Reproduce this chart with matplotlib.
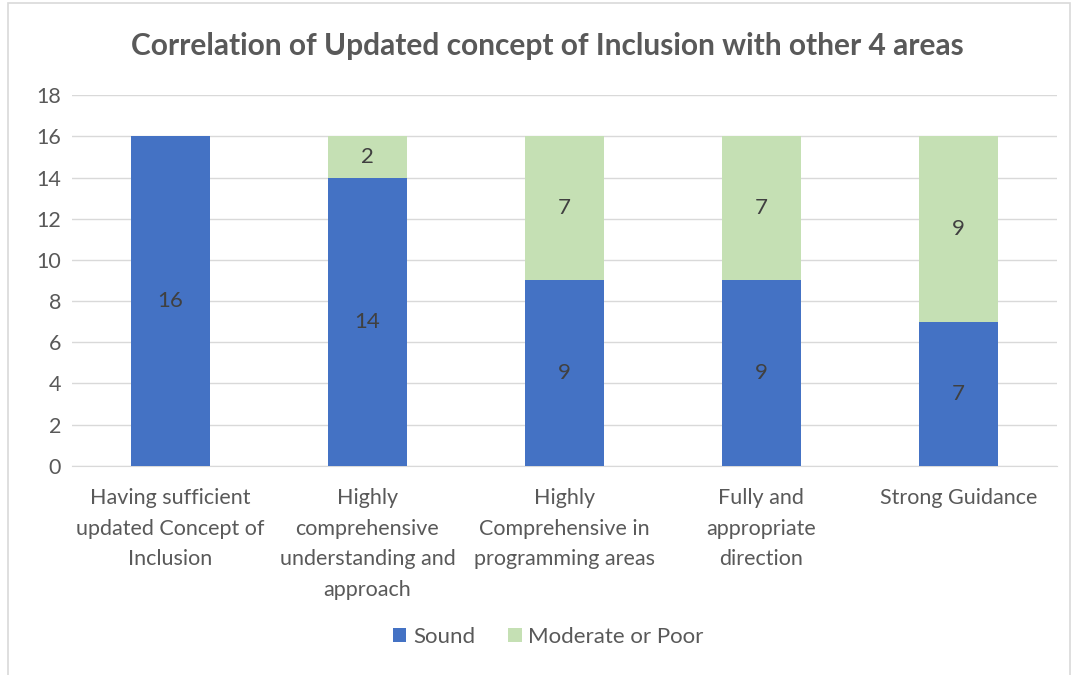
import matplotlib.pyplot as plt
from matplotlib.patches import Rectangle

categories = [
    "Having sufficient\nupdated Concept of\nInclusion",
    "Highly\ncomprehensive\nunderstanding and\napproach",
    "Highly\nComprehensive in\nprogramming areas",
    "Fully and\nappropriate\ndirection",
    "Strong Guidance",
]
sound = [16, 14, 9, 9, 7]
moderate_poor = [0, 2, 7, 7, 9]

plt.rcParams['font.family'] = ['Lato', 'DejaVu Sans']
text_col = "#595959"
blue = "#4472C4"
green = "#C5E0B4"

fig = plt.figure(figsize=(10.75, 6.75), dpi=100)
ax = fig.add_axes([0.067, 0.310, 0.916, 0.549])

x = list(range(len(categories)))
b1 = ax.bar(x, sound, width=0.4, color=blue, label="Sound", zorder=3)
b2 = ax.bar(x, moderate_poor, width=0.4, bottom=sound, color=green,
            label="Moderate or Poor", zorder=3)

# value labels in the middle of each segment
for i in x:
    if sound[i]:
        ax.text(i, sound[i] / 2, str(sound[i]), ha="center", va="center",
                fontsize=16, color="#404040", zorder=4)
    if moderate_poor[i]:
        ax.text(i, sound[i] + moderate_poor[i] / 2, str(moderate_poor[i]),
                ha="center", va="center", fontsize=16, color="#404040", zorder=4)

ax.set_xlim(-0.5, 4.5)
ax.set_ylim(0, 18)
ax.set_yticks(range(0, 19, 2))
ax.set_xticks(x)
ax.set_xticklabels(categories, fontsize=15.5, color=text_col, linespacing=1.66)
ax.tick_params(axis="y", labelsize=15.5, colors=text_col, length=0, pad=8)
ax.tick_params(axis="x", length=0, pad=16)
ax.grid(axis="y", color="#D9D9D9", linewidth=1, zorder=0)
for s in ["top", "right", "left"]:
    ax.spines[s].set_visible(False)
ax.spines["bottom"].set_color("#D9D9D9")

fig.text(0.509, 0.932, "Correlation of Updated concept of Inclusion with other 4 areas",
         ha="center", va="center", fontsize=21.5, fontweight="bold", color=text_col)

fig.legend(handles=[b1, b2], loc="center", bbox_to_anchor=(0.51, 0.056), ncol=2,
           frameon=False, fontsize=16, labelcolor=text_col, handlelength=0.6,
           handleheight=0.6, handletextpad=0.3, columnspacing=1.5)

# outer chart border
fig.patches.append(Rectangle((8 / 1075, -0.01), 1062 / 1075, 1 - 3 / 675 + 0.01,
                             transform=fig.transFigure, fill=False,
                             edgecolor="#D9D9D9", linewidth=1.2))

fig.savefig("out.png", dpi=100)
